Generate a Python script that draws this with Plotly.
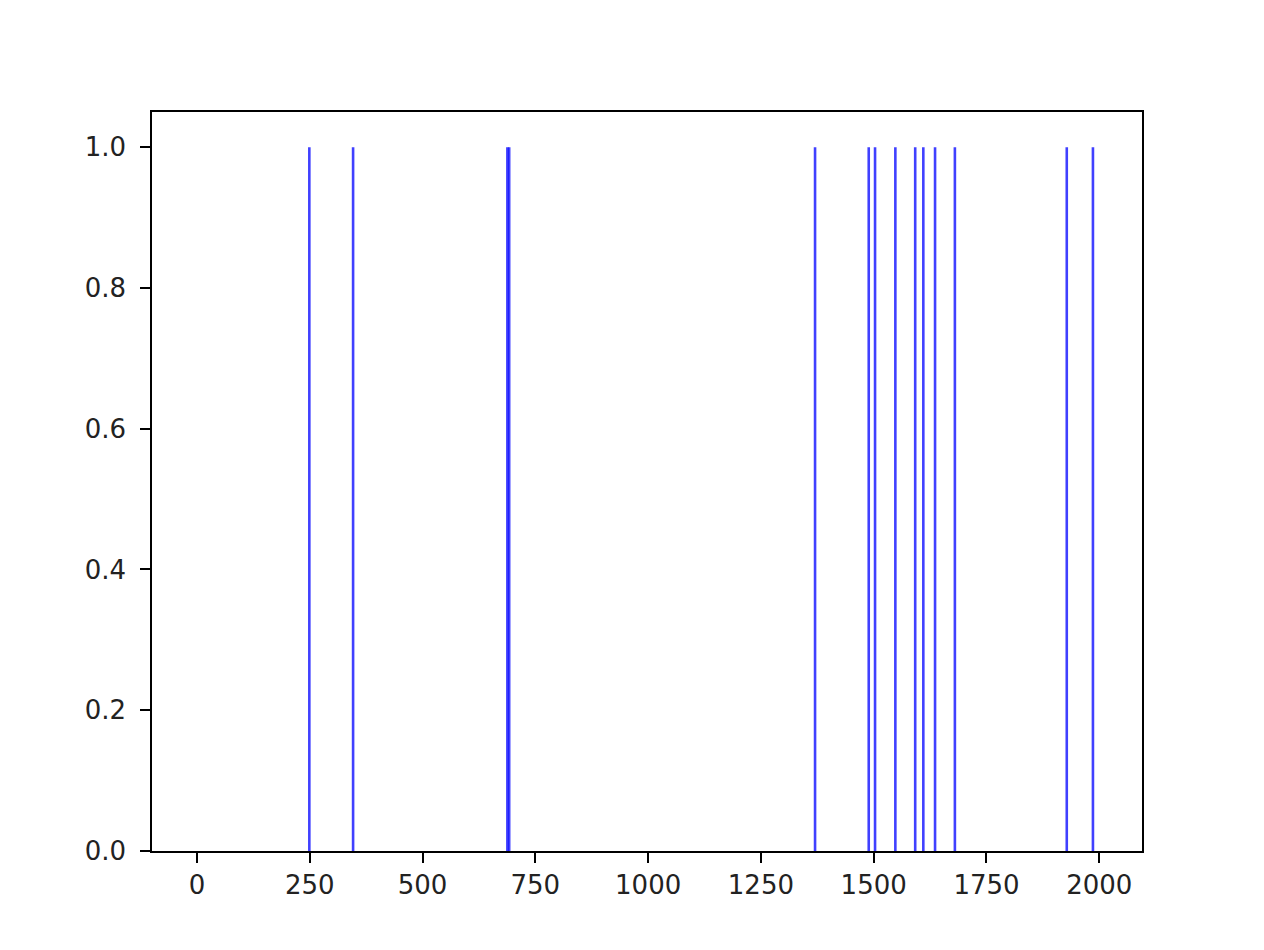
import plotly.graph_objects as go

event_positions = [249, 346, 688, 692, 1370, 1489, 1503, 1548, 1592, 1610, 1636, 1680, 1928, 1986]
event_heights = [1, 1, 1, 1, 1, 1, 1, 1, 1, 1, 1, 1, 1, 1]

xs, ys = [], []
for p, h in zip(event_positions, event_heights):
    xs += [p, p, None]
    ys += [0, h, None]

fig = go.Figure()
fig.add_trace(go.Scatter(x=xs, y=ys, mode="lines",
                         line=dict(color="rgba(0,0,255,0.75)", width=2.6),
                         hoverinfo="skip", showlegend=False))

axis_common = dict(showline=True, linecolor="black", linewidth=2.2, mirror=True,
                   ticks="outside", ticklen=9.6, tickwidth=2.2, tickcolor="black",
                   showgrid=False, zeroline=False,
                   tickfont=dict(family="DejaVu Sans", size=26, color="#222222"))

fig.update_xaxes(range=[-99.75, 2094.75], tickmode="linear", tick0=0, dtick=250, **axis_common)
fig.update_yaxes(range=[0, 1.05], tickmode="linear", tick0=0, dtick=0.2, tickformat=".1f",
                 ticklabelstandoff=9, **axis_common)

fig.update_layout(width=1248, height=934, margin=dict(l=144, r=114, t=104, b=91),
                  plot_bgcolor="white", paper_bgcolor="white")

fig.write_html("out.html")
